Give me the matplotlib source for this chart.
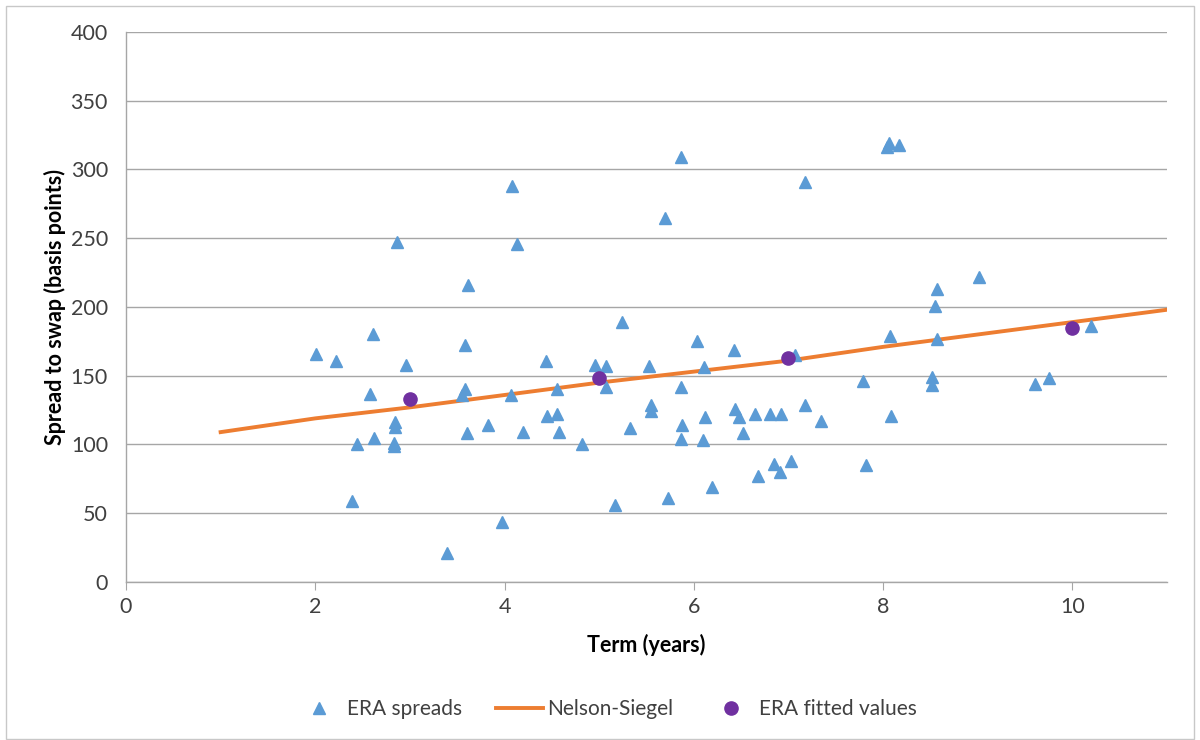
import numpy as np
import matplotlib.pyplot as plt
from matplotlib.patches import Rectangle

# ERA spreads (term in years, spread in bp)
era_term = [2.01, 2.22, 2.39, 2.44, 2.58, 2.61, 2.62, 2.84, 2.84, 2.83, 2.83, 2.86,
            2.96, 3.39, 3.55, 3.58, 3.58, 3.60, 3.61, 3.82, 3.97, 4.07, 4.08, 4.13,
            4.19, 4.44, 4.45, 4.55, 4.55, 4.58, 4.82, 4.96, 5.07, 5.07, 5.17, 5.24,
            5.33, 5.53, 5.55, 5.55, 5.70, 5.73, 5.86, 5.86, 5.87, 5.86, 6.03, 6.10,
            6.11, 6.12, 6.19, 6.42, 6.43, 6.48, 6.52, 6.65, 6.68, 6.81, 6.85, 6.91,
            6.92, 7.03, 7.07, 7.18, 7.18, 7.34, 7.79, 7.82, 8.04, 8.06, 8.07, 8.08,
            8.17, 8.52, 8.52, 8.55, 8.57, 8.57, 9.01, 9.60, 9.75, 10.20]
era_spread = [166, 161, 59, 100, 137, 180, 105, 116, 113, 101, 99, 247,
              158, 21, 136, 140, 172, 108, 216, 114, 44, 136, 288, 246,
              109, 161, 121, 122, 140, 109, 100, 158, 157, 142, 56, 189,
              112, 157, 129, 124, 265, 61, 309, 142, 114, 104, 175, 103,
              156, 120, 69, 169, 126, 120, 108, 122, 77, 122, 86, 80,
              122, 88, 165, 291, 129, 117, 146, 85, 316, 319, 179, 121,
              318, 149, 143, 201, 213, 177, 222, 144, 148, 186]

# Nelson-Siegel curve
ns_term = [1, 2, 3, 4, 5, 6, 7, 8, 9, 10, 11]
ns_spread = [109, 119, 127, 136, 145, 153, 161, 171, 180, 189, 198]

# ERA fitted values
fit_term = [3, 5, 7, 10]
fit_spread = [133, 148, 163, 185]

plt.rcParams['font.family'] = ['Lato', 'DejaVu Sans']

fig = plt.figure(figsize=(12, 7.4), dpi=100)
ax = fig.add_axes([0.105, 0.2135, 0.8675, 0.7433])

ax.plot(era_term, era_spread, linestyle='none', marker='^', markersize=8.5,
        color='#5B9BD5', label='ERA spreads', zorder=3)
ax.plot(ns_term, ns_spread, color='#ED7D31', linewidth=2.8,
        label='Nelson-Siegel', zorder=2)
ax.plot(fit_term, fit_spread, linestyle='none', marker='o', markersize=9.5,
        color='#7030A0', label='ERA fitted values', zorder=4)

ax.set_xlim(0, 11)
ax.set_ylim(0, 400)
ax.set_xticks([0, 2, 4, 6, 8, 10])
ax.set_yticks(np.arange(0, 401, 50))
ax.yaxis.grid(True, color='#A6A6A6', linewidth=1)
ax.set_axisbelow(True)

for s in ['top', 'right']:
    ax.spines[s].set_visible(False)
for s in ['left', 'bottom']:
    ax.spines[s].set_color('#A6A6A6')
    ax.spines[s].set_linewidth(1)

ax.tick_params(axis='x', direction='out', length=6, color='#A6A6A6',
               labelsize=15.5, labelcolor='#404040', pad=5)
ax.tick_params(axis='y', direction='out', length=0, labelsize=15.5,
               labelcolor='#404040', pad=13)

ax.set_xlabel('Term (years)', fontsize=15.5, fontweight='bold', labelpad=12)
ax.set_ylabel('Spread to swap (basis points)', fontsize=15.5, fontweight='bold',
              labelpad=3)

fig.legend(loc='center', bbox_to_anchor=(0.505, 0.042), ncol=3, frameon=False,
           fontsize=15, handlelength=2.3, handletextpad=0.2, columnspacing=1.6,
           labelcolor='#404040')

fig.patches.append(Rectangle((0.005, 0.002), 0.99, 0.99, transform=fig.transFigure,
                             fill=False, edgecolor='#C8C8C8', linewidth=1))

fig.savefig('out.png', dpi=100)
